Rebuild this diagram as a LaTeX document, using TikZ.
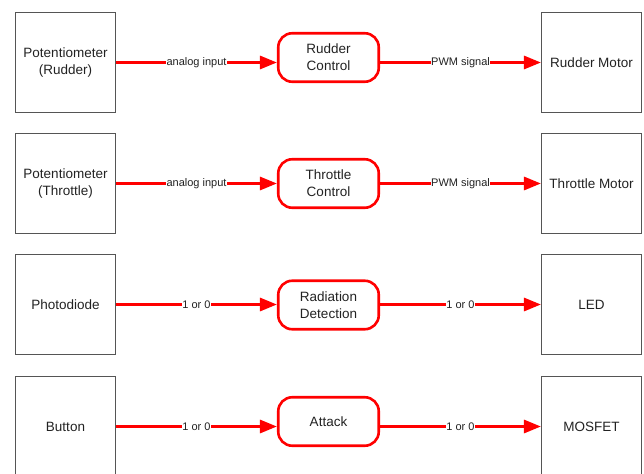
\documentclass[tikz,border=0pt]{standalone}
\usepackage{fontspec}
\setmainfont{Liberation Sans}
\usepackage{xcolor}
\usetikzlibrary{arrows.meta}

\definecolor{sigred}{RGB}{255,0,0}
\definecolor{boxgray}{RGB}{85,85,85}
\definecolor{txtgray}{RGB}{34,34,34}

\tikzset{
    ioblock/.style = {draw=boxgray, line width=1.1pt, minimum width=100pt, minimum height=100pt,
        align=center, text=txtgray, font=\fontsize{13.5}{17}\selectfont},
    ctrlblock/.style = {draw=sigred, line width=2.6pt, rounded corners=14pt, minimum width=100.5pt,
        minimum height=48.5pt, align=center, text=txtgray, font=\fontsize{13.5}{17}\selectfont},
    sig/.style = {draw=sigred, line width=3pt, -{Triangle[length=17pt,width=13pt]}},
    siglabel/.style = {fill=white, inner sep=0.6pt, text=txtgray, font=\fontsize{11}{13}\selectfont}
}

\begin{document}
\begin{tikzpicture}[x=1pt, y=-1pt]
        \useasboundingbox (0,0) rectangle (644,473);
        % inputs
        \node[ioblock] (nin1) at (65.5,62.5) {Potentiometer\\(Rudder)};
        \node[ioblock] (nin2) at (65.5,183.5) {Potentiometer\\(Throttle)};
        \node[ioblock] (nin3) at (65.5,304.5) {Photodiode};
        \node[ioblock] (nin4) at (65.5,426.5) {Button};
        % controllers
        \node[ctrlblock] (nctl1) at (328.5,57.5) {Rudder\\Control};
        \node[ctrlblock] (nctl2) at (328.5,183.5) {Throttle\\Control};
        \node[ctrlblock] (nctl3) at (328.5,305) {Radiation\\Detection};
        \node[ctrlblock] (nctl4) at (328.5,421.5) {Attack};
        % outputs
        \node[ioblock] (nout1) at (591.5,62.5) {Rudder Motor};
        \node[ioblock] (nout2) at (591.5,183.5) {Throttle Motor};
        \node[ioblock] (nout3) at (591.5,304.5) {LED};
        \node[ioblock] (nout4) at (591.5,426.5) {MOSFET};
        % signals
        \draw[sig] (nin1.east) -- node[siglabel] {analog input} (nin1.east -| nctl1.west);
        \draw[sig] (nin1.east -| nctl1.east) -- node[siglabel] {PWM signal} (nout1.west);
        \draw[sig] (nin2.east) -- node[siglabel] {analog input} (nin2.east -| nctl2.west);
        \draw[sig] (nin2.east -| nctl2.east) -- node[siglabel] {PWM signal} (nout2.west);
        \draw[sig] (nin3.east) -- node[siglabel] {1 or 0} (nin3.east -| nctl3.west);
        \draw[sig] (nin3.east -| nctl3.east) -- node[siglabel] {1 or 0} (nout3.west);
        \draw[sig] (nin4.east) -- node[siglabel] {1 or 0} (nin4.east -| nctl4.west);
        \draw[sig] (nin4.east -| nctl4.east) -- node[siglabel] {1 or 0} (nout4.west);
\end{tikzpicture}
\end{document}
